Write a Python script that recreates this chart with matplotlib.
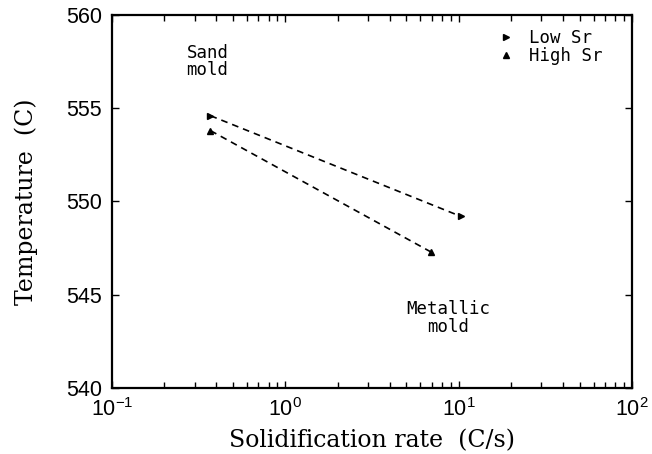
import numpy as np
import matplotlib
matplotlib.use('Agg')
import matplotlib.pyplot as plt
from matplotlib.ticker import LogLocator, NullFormatter, MultipleLocator

# data
rate_low = [0.37, 10.3]
temp_low = [554.6, 549.2]
rate_high = [0.37, 6.9]
temp_high = [553.8, 547.3]

series_names = ['Low Sr', 'High Sr']

fig = plt.figure(figsize=(6.52, 4.54), dpi=100)
ax = fig.add_axes([112/652, 1-388/454, 520/652, 373/454])

ax.plot(rate_low, temp_low, ls=(0, (4, 3)), color='black', lw=1.2)
ax.plot(rate_high, temp_high, ls=(0, (4, 3)), color='black', lw=1.2)
ax.plot(rate_low, temp_low, ls='none', marker='>', ms=5, color='black')
ax.plot(rate_high, temp_high, ls='none', marker='^', ms=5, color='black')

ax.set_xscale('log')
ax.set_xlim(0.1, 100)
ax.set_ylim(540, 560)
ax.yaxis.set_major_locator(MultipleLocator(5))
ax.xaxis.set_minor_locator(LogLocator(base=10, subs=np.arange(2, 10)))
ax.xaxis.set_minor_formatter(NullFormatter())

for s in ax.spines.values():
    s.set_linewidth(1.6)
ax.tick_params(which='both', direction='in', top=True, right=True, width=1.0)
ax.tick_params(which='major', length=5, pad=7, labelsize=15.5)
ax.tick_params(which='minor', length=4)
for lab in ax.get_xticklabels() + ax.get_yticklabels():
    lab.set_fontfamily('Liberation Sans')

ax.set_xlabel('Solidification rate  (C/s)', family='DejaVu Serif', fontsize=17, labelpad=6)
ax.set_ylabel('Temperature  (C)', family='DejaVu Serif', fontsize=17, labelpad=20)

mono = 'DejaVu Sans Mono'
ax.text(0.356, 557.5, 'Sand\nmold', family=mono, fontsize=12.5, ha='center', va='center', linespacing=0.95)
ax.text(8.7, 543.75, 'Metallic\nmold', family=mono, fontsize=12.5, ha='center', va='center', linespacing=0.95)

leg = ax.legend(
    [plt.Line2D([], [], ls='none', marker='>', ms=4, color='black'),
     plt.Line2D([], [], ls='none', marker='^', ms=4, color='black')],
    series_names, loc='upper right', frameon=False, prop={'family': mono, 'size': 12.5},
    handlelength=1.0, handletextpad=0.8, labelspacing=0.0, borderaxespad=0,
    bbox_to_anchor=(0.956, 0.98))

fig.savefig('out.png', dpi=100)
